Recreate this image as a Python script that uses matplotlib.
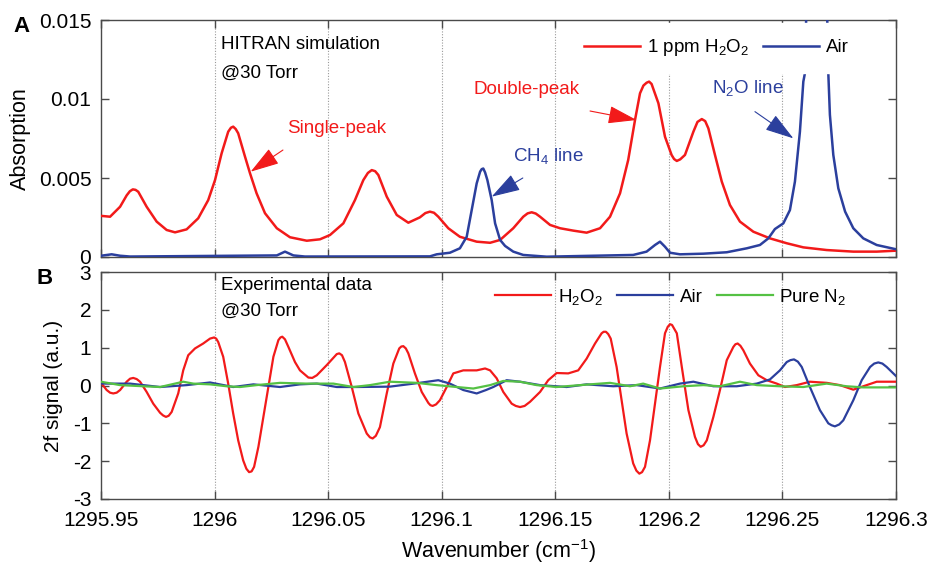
import matplotlib
matplotlib.use("Agg")
import matplotlib.pyplot as plt

plt.rcParams['font.family'] = ['Liberation Sans', 'DejaVu Sans']
plt.rcParams['mathtext.fontset'] = 'custom'
plt.rcParams['mathtext.rm'] = 'Liberation Sans'
plt.rcParams['axes.unicode_minus'] = False

# ---------------- data ----------------
xticks = [1295.95, 1296.0, 1296.05, 1296.1, 1296.15, 1296.2, 1296.25, 1296.3]
xtick_labels = ['1295.95', '1296', '1296.05', '1296.1', '1296.15', '1296.2', '1296.25', '1296.3']
top_yticks = [0, 0.005, 0.01, 0.015]
top_ytick_labels = ['0', '0.005', '0.01', '0.015']
bot_yticks = [-3, -2, -1, 0, 1, 2, 3]
bot_ytick_labels = ['-3', '-2', '-1', '0', '1', '2', '3']

# Panel A: HITRAN simulation, 1 ppm H2O2
hitran_h2o2_wn = [1295.9503, 1295.9540, 1295.9584, 1295.9613, 1295.9627, 1295.9640, 1295.9652,
                  1295.9664, 1295.9701, 1295.9745, 1295.9789, 1295.9826, 1295.9877, 1295.9928,
                  1295.9972, 1296.0002, 1296.0031, 1296.0060, 1296.0072, 1296.0082, 1296.0093,
                  1296.0104, 1296.0134, 1296.0156, 1296.0185, 1296.0222, 1296.0274, 1296.0332,
                  1296.0406, 1296.0464, 1296.0508, 1296.0567, 1296.0618, 1296.0655, 1296.0675,
                  1296.0692, 1296.0707, 1296.0721, 1296.0758, 1296.0802, 1296.0853, 1296.0904,
                  1296.0928, 1296.0948, 1296.0966, 1296.0985, 1296.1029, 1296.1080, 1296.1154,
                  1296.1213, 1296.1257, 1296.1315, 1296.1359, 1296.1378, 1296.1396, 1296.1414,
                  1296.1433, 1296.1477, 1296.1521, 1296.1579, 1296.1638, 1296.1697, 1296.1741,
                  1296.1785, 1296.1821, 1296.1851, 1296.1873, 1296.1888, 1296.1902, 1296.1913,
                  1296.1924, 1296.1935, 1296.1954, 1296.1983, 1296.2012, 1296.2023, 1296.2035,
                  1296.2050, 1296.2071, 1296.2108, 1296.2126, 1296.2145, 1296.2160, 1296.2174,
                  1296.2203, 1296.2233, 1296.2269, 1296.2313, 1296.2372, 1296.2445, 1296.2519,
                  1296.2592, 1296.2695, 1296.2812, 1296.2915, 1296.3000]
hitran_h2o2_abs = [0.00260, 0.00255, 0.00318, 0.00390, 0.00416, 0.00428, 0.00425,
                   0.00413, 0.00318, 0.00224, 0.00171, 0.00156, 0.00175, 0.00245,
                   0.00360, 0.00487, 0.00656, 0.00793, 0.00818, 0.00825, 0.00810,
                   0.00783, 0.00635, 0.00530, 0.00403, 0.00277, 0.00182, 0.00125,
                   0.00103, 0.00112, 0.00139, 0.00213, 0.00360, 0.00487, 0.00532,
                   0.00550, 0.00543, 0.00519, 0.00382, 0.00266, 0.00217, 0.00251,
                   0.00278, 0.00287, 0.00280, 0.00255, 0.00182, 0.00128, 0.00097,
                   0.00090, 0.00108, 0.00182, 0.00255, 0.00276, 0.00283, 0.00275,
                   0.00255, 0.00203, 0.00182, 0.00167, 0.00154, 0.00182, 0.00255,
                   0.00403, 0.00614, 0.00867, 0.01036, 0.01085, 0.01103, 0.01110,
                   0.01095, 0.01050, 0.00973, 0.00761, 0.00646, 0.00620, 0.00608,
                   0.00618, 0.00646, 0.00793, 0.00855, 0.00873, 0.00860, 0.00814,
                   0.00646, 0.00477, 0.00329, 0.00224, 0.00160, 0.00118, 0.00087,
                   0.00061, 0.00044, 0.00034, 0.00034, 0.00040]

# Panel A: HITRAN simulation, air
hitran_air_wn = [1295.9500, 1295.9547, 1295.9584, 1295.9628, 1296.0274, 1296.0310, 1296.0347,
                 1296.0398, 1296.0948, 1296.0978, 1296.1036, 1296.1080, 1296.1110, 1296.1132,
                 1296.1154, 1296.1169, 1296.1176, 1296.1183, 1296.1191, 1296.1201, 1296.1220,
                 1296.1235, 1296.1257, 1296.1279, 1296.1315, 1296.1359, 1296.1462, 1296.1843,
                 1296.1902, 1296.1939, 1296.1961, 1296.1983, 1296.2005, 1296.2049, 1296.2152,
                 1296.2255, 1296.2343, 1296.2401, 1296.2438, 1296.2467, 1296.2504, 1296.2533,
                 1296.2555, 1296.2577, 1296.2592, 1296.2599, 1296.2606, 1296.2621, 1296.2651,
                 1296.2679, 1296.2696, 1296.2702, 1296.2709, 1296.2724, 1296.2746, 1296.2776,
                 1296.2812, 1296.2856, 1296.2915, 1296.3000]
hitran_air_abs = [0.00008, 0.00017, 0.00008, 0.00003, 0.00010, 0.00034, 0.00010,
                  0.00003, 0.00004, 0.00017, 0.00027, 0.00055, 0.00128, 0.00297,
                  0.00466, 0.00540, 0.00556, 0.00560, 0.00535, 0.00487, 0.00360,
                  0.00213, 0.00108, 0.00070, 0.00034, 0.00013, 0.00002, 0.00013,
                  0.00034, 0.00076, 0.00097, 0.00065, 0.00027, 0.00017, 0.00021,
                  0.00030, 0.00055, 0.00076, 0.00118, 0.00177, 0.00213, 0.00297,
                  0.00477, 0.00793, 0.01110, 0.01163, 0.01600, 0.02500, 0.04000,
                  0.02500, 0.01600, 0.01163, 0.00900, 0.00646, 0.00435, 0.00287,
                  0.00182, 0.00118, 0.00076, 0.00049]

# Panel B: experimental 2f signal, H2O2
exp_h2o2_wn = [1295.9503, 1295.9525, 1295.9540, 1295.9554, 1295.9569, 1295.9584, 1295.9613,
               1295.9628, 1295.9642, 1295.9657, 1295.9672, 1295.9701, 1295.9730, 1295.9760,
               1295.9773, 1295.9786, 1295.9798, 1295.9811, 1295.9840, 1295.9862, 1295.9884,
               1295.9914, 1295.9950, 1295.9980, 1295.9998, 1296.0007, 1296.0016, 1296.0038,
               1296.0060, 1296.0082, 1296.0104, 1296.0126, 1296.0140, 1296.0152, 1296.0163,
               1296.0174, 1296.0193, 1296.0215, 1296.0237, 1296.0259, 1296.0281, 1296.0290,
               1296.0298, 1296.0310, 1296.0325, 1296.0354, 1296.0376, 1296.0413, 1296.0430,
               1296.0450, 1296.0494, 1296.0526, 1296.0538, 1296.0549, 1296.0561, 1296.0574,
               1296.0604, 1296.0633, 1296.0670, 1296.0684, 1296.0696, 1296.0710, 1296.0728,
               1296.0758, 1296.0787, 1296.0813, 1296.0822, 1296.0831, 1296.0842, 1296.0853,
               1296.0882, 1296.0912, 1296.0941, 1296.0950, 1296.0960, 1296.0975, 1296.0992,
               1296.1022, 1296.1051, 1296.1095, 1296.1154, 1296.1191, 1296.1213, 1296.1242,
               1296.1271, 1296.1308, 1296.1326, 1296.1345, 1296.1365, 1296.1389, 1296.1433,
               1296.1469, 1296.1506, 1296.1557, 1296.1601, 1296.1638, 1296.1675, 1296.1704,
               1296.1713, 1296.1723, 1296.1733, 1296.1744, 1296.1770, 1296.1792, 1296.1814,
               1296.1843, 1296.1857, 1296.1870, 1296.1882, 1296.1895, 1296.1917, 1296.1939,
               1296.1961, 1296.1983, 1296.1995, 1296.2005, 1296.2014, 1296.2035, 1296.2057,
               1296.2086, 1296.2115, 1296.2128, 1296.2140, 1296.2153, 1296.2167, 1296.2196,
               1296.2225, 1296.2255, 1296.2284, 1296.2293, 1296.2303, 1296.2315, 1296.2328,
               1296.2357, 1296.2394, 1296.2431, 1296.2475, 1296.2511, 1296.2563, 1296.2621,
               1296.2695, 1296.2753, 1296.2812, 1296.2856, 1296.2915, 1296.3000]
exp_h2o2_sig = [0.05, -0.12, -0.19, -0.21, -0.19, -0.12, 0.10,
                0.18, 0.20, 0.17, 0.10, -0.17, -0.48, -0.72,
                -0.79, -0.83, -0.80, -0.70, -0.21, 0.40, 0.80,
                0.98, 1.11, 1.24, 1.27, 1.24, 1.15, 0.76,
                0.05, -0.74, -1.45, -1.98, -2.20, -2.29, -2.27,
                -2.15, -1.62, -0.83, -0.04, 0.76, 1.20, 1.27,
                1.29, 1.22, 1.02, 0.62, 0.40, 0.21, 0.20,
                0.27, 0.54, 0.75, 0.83, 0.85, 0.80, 0.62,
                -0.04, -0.74, -1.27, -1.37, -1.40, -1.33, -1.10,
                -0.21, 0.58, 0.98, 1.03, 1.04, 0.98, 0.85,
                0.32, -0.17, -0.46, -0.52, -0.54, -0.50, -0.39,
                -0.04, 0.32, 0.40, 0.40, 0.45, 0.40, 0.19,
                -0.17, -0.48, -0.54, -0.57, -0.54, -0.43, -0.17,
                0.14, 0.33, 0.32, 0.40, 0.71, 1.11, 1.38,
                1.42, 1.42, 1.36, 1.24, 0.49, -0.39, -1.27,
                -2.06, -2.25, -2.33, -2.29, -2.15, -1.45, -0.48,
                0.49, 1.38, 1.55, 1.62, 1.60, 1.38, 0.49,
                -0.65, -1.36, -1.55, -1.62, -1.58, -1.45, -0.83,
                -0.12, 0.67, 1.02, 1.09, 1.11, 1.05, 0.93,
                0.58, 0.27, 0.14, 0.05, -0.04, 0.01, 0.10,
                0.07, 0.01, -0.11, -0.02, 0.10, 0.10]

# Panel B: experimental 2f signal, air
exp_air_wn = [1295.9500, 1295.9628, 1295.9760, 1295.9877, 1295.9980, 1296.0082, 1296.0171,
              1296.0288, 1296.0376, 1296.0450, 1296.0538, 1296.0626, 1296.0772, 1296.0890,
              1296.0985, 1296.1036, 1296.1095, 1296.1154, 1296.1195, 1296.1227, 1296.1286,
              1296.1345, 1296.1433, 1296.1550, 1296.1638, 1296.1755, 1296.1858, 1296.1961,
              1296.2049, 1296.2108, 1296.2196, 1296.2299, 1296.2387, 1296.2445, 1296.2489,
              1296.2519, 1296.2535, 1296.2551, 1296.2568, 1296.2585, 1296.2621, 1296.2665,
              1296.2702, 1296.2716, 1296.2731, 1296.2750, 1296.2768, 1296.2812, 1296.2849,
              1296.2886, 1296.2904, 1296.2922, 1296.2940, 1296.2959, 1296.3000]
exp_air_sig = [0.05, 0.05, -0.04, 0.01, 0.08, -0.04, 0.03,
               -0.04, 0.03, 0.05, -0.04, -0.04, -0.03, 0.06,
               0.14, 0.05, -0.12, -0.21, -0.12, -0.04, 0.14,
               0.10, 0.01, -0.04, 0.03, -0.02, 0.01, -0.08,
               0.05, 0.10, -0.02, -0.02, 0.05, 0.16, 0.40,
               0.62, 0.67, 0.69, 0.63, 0.49, -0.04, -0.65,
               -1.00, -1.05, -1.08, -1.03, -0.92, -0.39, 0.14,
               0.49, 0.58, 0.61, 0.58, 0.49, 0.25]

# Panel B: experimental 2f signal, pure N2
exp_n2_wn = [1295.9500, 1295.9584, 1295.9686, 1295.9760, 1295.9862, 1295.9906, 1295.9980,
             1296.0053, 1296.0112, 1296.0185, 1296.0288, 1296.0406, 1296.0523, 1296.0611,
             1296.0684, 1296.0772, 1296.0890, 1296.0978, 1296.1066, 1296.1139, 1296.1213,
             1296.1271, 1296.1345, 1296.1418, 1296.1506, 1296.1609, 1296.1741, 1296.1829,
             1296.1887, 1296.1961, 1296.2064, 1296.2152, 1296.2225, 1296.2313, 1296.2387,
             1296.2489, 1296.2592, 1296.2695, 1296.2783, 1296.2856, 1296.3000]
exp_n2_sig = [0.10, 0.01, -0.02, -0.04, 0.10, 0.05, 0.03,
              -0.02, -0.04, 0.01, 0.07, 0.05, 0.05, -0.04,
              0.01, 0.10, 0.07, 0.01, -0.04, -0.08, 0.01,
              0.12, 0.10, 0.01, -0.04, 0.01, 0.07, -0.02,
              0.05, -0.08, -0.02, 0.01, -0.02, 0.10, 0.01,
              -0.02, -0.04, 0.05, -0.02, -0.05, -0.05]

# ---------------- styling ----------------
RED = '#f21a1a'
BLUE = '#2b3f9d'
GREEN = '#55c144'
SPINE = '#4a4a4a'
W, H = 931, 568

fig = plt.figure(figsize=(W / 100, H / 100), dpi=100)
axA = fig.add_axes([101 / W, 1 - 257 / H, 795 / W, 237 / H])
axB = fig.add_axes([101 / W, 1 - 499 / H, 795 / W, 227 / H])


def style_axes(ax):
    for s in ax.spines.values():
        s.set_color(SPINE)
        s.set_linewidth(1.0)
    ax.tick_params(direction='in', top=True, right=True, length=6, width=1.0,
                   color=SPINE, labelsize=15, labelcolor='black')
    ax.tick_params(axis='x', pad=9)
    ax.tick_params(axis='y', pad=7)
    ax.set_xlim(xticks[0], xticks[-1])
    ax.set_xticks(xticks)
    for xv in xticks[1:-1]:
        ax.axvline(xv, color='#9a9a9a', lw=0.8, ls=(0, (1, 1.5)), zorder=1)


# ---- Panel A ----
style_axes(axA)
axA.plot(hitran_h2o2_wn, hitran_h2o2_abs, color=RED, lw=1.8, zorder=3,
         label=r'1 ppm H$\mathregular{_2}$O$\mathregular{_2}$')
axA.plot(hitran_air_wn, hitran_air_abs, color=BLUE, lw=1.8, zorder=3, label='Air')
axA.set_ylim(0, 0.015)
axA.set_yticks(top_yticks)
axA.set_yticklabels(top_ytick_labels)
axA.set_xticklabels([])
axA.set_ylabel('Absorption', fontsize=15.5)
axA.yaxis.set_label_coords(-0.088, 0.5)

legA = axA.legend(loc='center left', bbox_to_anchor=(0.59, 0.882), ncol=2,
                  fontsize=13.5, handlelength=3.0, handletextpad=0.35,
                  columnspacing=0.75, borderpad=0.75, borderaxespad=0,
                  frameon=True, fancybox=False, framealpha=1,
                  facecolor='white', edgecolor='white')
legA.set_zorder(6)

axA.text(1296.0029, 0.01345, 'HITRAN simulation', fontsize=13.5, va='center', ha='left')
axA.text(1296.0029, 0.01165, '@30 Torr', fontsize=13.5, va='center', ha='left')

arrow_kw = dict(arrowstyle='-|>,head_length=0.9,head_width=0.28', lw=0.8,
                shrinkA=0, shrinkB=0, mutation_scale=20)
# Single-peak
axA.text(1296.0319, 0.00816, 'Single-peak', color=RED, fontsize=13.5, va='center', ha='left')
axA.annotate('', xy=(1296.0159, 0.0054), xytext=(1296.0301, 0.00677),
             arrowprops=dict(color=RED, **arrow_kw))
# Double-peak
axA.text(1296.1138, 0.01057, 'Double-peak', color=RED, fontsize=13.5, va='center', ha='left')
axA.annotate('', xy=(1296.1858, 0.00867), xytext=(1296.1653, 0.00924),
             arrowprops=dict(color=RED, **arrow_kw))
# CH4 line
axA.text(1296.1314, 0.0064, r'CH$\mathregular{_4}$ line', color=BLUE, fontsize=13.5,
         va='center', ha='left')
axA.annotate('', xy=(1296.1220, 0.00382), xytext=(1296.1357, 0.0050),
             arrowprops=dict(color=BLUE, **arrow_kw))
# N2O line
axA.text(1296.2190, 0.0107, r'N$\mathregular{_2}$O line', color=BLUE, fontsize=13.5,
         va='center', ha='left')
axA.annotate('', xy=(1296.2548, 0.00751), xytext=(1296.2379, 0.0092),
             arrowprops=dict(color=BLUE, **arrow_kw))

# ---- Panel B ----
style_axes(axB)
axB.plot(exp_h2o2_wn, exp_h2o2_sig, color=RED, lw=1.6, zorder=3,
         label=r'H$\mathregular{_2}$O$\mathregular{_2}$')
axB.plot(exp_air_wn, exp_air_sig, color=BLUE, lw=1.6, zorder=3, label='Air')
axB.plot(exp_n2_wn, exp_n2_sig, color=GREEN, lw=1.6, zorder=3,
         label=r'Pure N$\mathregular{_2}$')
axB.set_ylim(-3, 3)
axB.set_yticks(bot_yticks)
axB.set_yticklabels(bot_ytick_labels)
axB.set_xticklabels(xtick_labels)
axB.set_ylabel('2f signal (a.u.)', fontsize=15)
axB.yaxis.set_label_coords(-0.048, 0.5)
axB.set_xlabel(r'Wavenumber (cm$\mathregular{^{-1}}$)', fontsize=15.5)
axB.xaxis.set_label_coords(0.5, -0.17)

axB.legend(loc='center left', bbox_to_anchor=(0.4956, 0.89), ncol=3,
           fontsize=13.5, handlelength=3.0, handletextpad=0.35,
           columnspacing=0.75, borderpad=0, borderaxespad=0, frameon=False)

axB.text(1296.0029, 2.65, 'Experimental data', fontsize=13.5, va='center', ha='left')
axB.text(1296.0029, 1.95, '@30 Torr', fontsize=13.5, va='center', ha='left')

# panel letters
fig.text(21 / W, 1 - 27 / H, 'A', fontsize=16, fontweight='bold', ha='center', va='center')
fig.text(45 / W, 1 - 279 / H, 'B', fontsize=16, fontweight='bold', ha='center', va='center')

fig.savefig('out.png', dpi=100)
